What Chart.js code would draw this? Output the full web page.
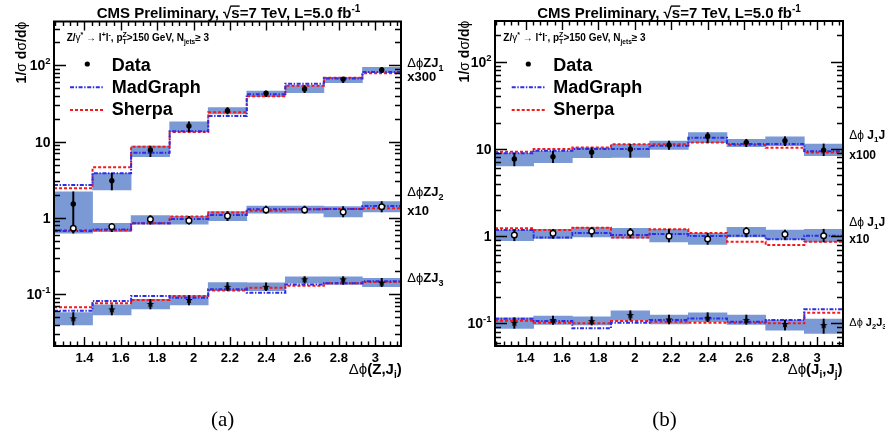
<!DOCTYPE html>
<html><head><meta charset="utf-8">
<script src="https://cdn.jsdelivr.net/npm/chart.js@4/dist/chart.umd.min.js"></script>
<style>
html,body{margin:0;padding:0;background:#fff;}
#wrap{position:relative;width:885px;height:435px;overflow:hidden;background:#fff;}
canvas{position:absolute;top:0;}
</style></head><body>
<div id="wrap">
<canvas id="ca" width="446" height="435" style="left:0"></canvas>
<canvas id="cb" width="445" height="435" style="left:440px"></canvas>
</div>
<script>
// ---- binning and ticks ----
const binEdges   = [1.2325, 1.4446, 1.6567, 1.8688, 2.0809, 2.2930, 2.5052, 2.7173, 2.9294, 3.1416];
const binCenters = [1.3386, 1.5507, 1.7628, 1.9749, 2.1870, 2.3991, 2.6112, 2.8233, 3.0355];
const xTickValues = [1.4, 1.6, 1.8, 2.0, 2.2, 2.4, 2.6, 2.8, 3.0];
const xTickLabels = ['1.4', '1.6', '1.8', '2', '2.2', '2.4', '2.6', '2.8', '3'];
const yTickValues = [0.1, 1, 10, 100];
const yTickLabels = ['10^{-1}', '1', '10', '10^{2}'];

// ---- panel (a): dphi(Z,J_i) ----
const a1Data = [1.52, 3.07, 7.76, 16.0, 25.4, 43.0, 48.9, 65.5, 86.7];
const a1Lo   = [0.63, 2.32, 6.34, 13.5, 23.0, 38.8, 43.8, 59.1, 80.0];
const a1Hi   = [2.2, 3.85, 8.75, 18.2, 27.8, 46.0, 54.0, 69.7, 94.0];
const a1MG   = [2.7, 3.85, 7.16, 13.7, 21.7, 41.7, 57.4, 67.0, 81.6];
const a1SH   = [2.45, 4.6, 8.57, 13.4, 24.2, 39.3, 54.0, 68.9, 78.6];

const a2Data = [0.731, 0.767, 0.96, 0.918, 1.06, 1.27, 1.27, 1.19, 1.40];
const a2Lo   = [0.65, 0.66, 0.83, 0.83, 0.92, 1.15, 1.15, 1.03, 1.20];
const a2Hi   = [0.80, 0.85, 1.07, 1.05, 1.21, 1.43, 1.43, 1.41, 1.63];
const a2MG   = [0.675, 0.705, 0.85, 0.97, 1.09, 1.30, 1.30, 1.31, 1.43];
const a2SH   = [0.69, 0.69, 0.85, 1.04, 1.18, 1.24, 1.30, 1.31, 1.34];

const a3Data = [0.0483, 0.0634, 0.0745, 0.084, 0.125, 0.125, 0.157, 0.157, 0.1415];
const a3Lo   = [0.0395, 0.0533, 0.064, 0.0723, 0.111, 0.111, 0.139, 0.134, 0.125];
const a3Hi   = [0.0573, 0.0723, 0.0857, 0.0956, 0.1415, 0.141, 0.169, 0.169, 0.161];
const a3MG   = [0.0608, 0.0815, 0.0947, 0.090, 0.116, 0.1047, 0.134, 0.139, 0.148];
const a3SH   = [0.0673, 0.076, 0.084, 0.0947, 0.112, 0.1216, 0.129, 0.139, 0.145];

// ---- panel (b): dphi(J_i,J_j) ----
const b1Data = [7.66, 8.15, 9.15, 9.9, 11.1, 14.0, 11.9, 12.4, 9.7];
const b1Lo   = [6.4, 6.95, 7.93, 8.0, 9.9, 11.8, 10.6, 10.9, 8.36];
const b1Hi   = [8.9, 9.46, 10.3, 11.3, 12.3, 15.4, 12.9, 13.8, 11.4];
const b1MG   = [8.9, 9.53, 9.97, 9.97, 10.9, 13.4, 11.4, 11.4, 9.4];
const b1SH   = [9.3, 9.97, 10.4, 11.3, 11.3, 11.85, 11.1, 10.3, 9.1];

const b2Data = [1.03, 1.077, 1.14, 1.10, 1.00, 0.927, 1.14, 1.05, 1.01];
const b2Lo   = [0.885, 0.944, 0.98, 0.95, 0.86, 0.805, 0.98, 0.92, 0.86];
const b2Hi   = [1.175, 1.20, 1.26, 1.23, 1.20, 1.08, 1.26, 1.175, 1.20];
const b2MG   = [1.175, 0.968, 1.09, 1.03, 1.06, 1.005, 1.01, 0.92, 1.01];
const b2SH   = [1.23, 1.175, 1.25, 0.968, 1.20, 1.09, 0.863, 0.79, 0.863];

const b3Data = [0.1016, 0.1091, 0.1062, 0.1245, 0.1111, 0.1159, 0.1091, 0.0982, 0.0957];
const b3Lo   = [0.0877, 0.0975, 0.0957, 0.1091, 0.0982, 0.1043, 0.0975, 0.0838, 0.0768];
const b3Hi   = [0.1159, 0.1213, 0.119, 0.1394, 0.1245, 0.1324, 0.1245, 0.1091, 0.112];
const b3MG   = [0.113, 0.1062, 0.0877, 0.1016, 0.1091, 0.114, 0.1043, 0.1091, 0.1449];
const b3SH   = [0.1071, 0.1016, 0.1, 0.1062, 0.1043, 0.1016, 0.1016, 0.1, 0.1324];

// ---- styles ----
const BAND = '#7b9ad5';
const MGC = 'rgb(45,45,230)';
const SHC = 'rgb(245,25,25)';
const MGDASH = [4, 1.6, 1.4, 1.6];
const SHDASH = [3, 2];
const FAM = '"Liberation Sans", Arial, "DejaVu Sans", sans-serif';
const B = s => `bold ${s}px ${FAM}`;
const N = s => `${s}px ${FAM}`;
const SER = s => `${s}px "Liberation Serif", "Times New Roman", serif`;

function makeStar(R) {
  const c = document.createElement('canvas');
  const s = Math.ceil(R * 2 + 2);
  c.width = s; c.height = s;
  const g = c.getContext('2d');
  g.translate(s / 2, s / 2 + 0.3);
  g.beginPath();
  for (let i = 0; i < 10; i++) {
    const r = i % 2 ? R * 0.45 : R;
    const a = -Math.PI / 2 + i * Math.PI / 5;
    g.lineTo(r * Math.cos(a), r * Math.sin(a));
  }
  g.closePath(); g.fillStyle = '#000'; g.fill();
  return c;
}
const STAR = makeStar(3.9);

function drawRich(ctx, parts, x, y, align) {
  let w = 0;
  for (const p of parts) { ctx.font = p.f; p._w = ctx.measureText(p.t).width; if (p.adv !== false) w += p._w; }
  let cx = align === 'right' ? x - w : align === 'center' ? x - w / 2 : x;
  for (const p of parts) {
    ctx.font = p.f;
    ctx.fillText(p.t, cx, y + (p.dy || 0));
    if (p.over) {
      ctx.save(); ctx.lineWidth = 1.4; ctx.beginPath();
      ctx.moveTo(cx - 1, y - 12.2); ctx.lineTo(cx + p._w, y - 12.2); ctx.stroke(); ctx.restore();
    }
    if (p.adv !== false) cx += p._w;
  }
}
function parseTick(lbl) {
  const m = lbl.match(/^(.*?)\^\{(.*)\}$/);
  if (!m) return [{ t: lbl, f: B(14) }];
  return [{ t: m[1], f: B(14) }, { t: m[2], f: B(9.5), dy: -6 }];
}

function makeDecor(P) {
  return {
    id: 'decor',
    afterDraw(chart) {
      const ctx = chart.ctx, a = chart.chartArea, xs = chart.scales.x, ys = chart.scales.y;
      ctx.save();
      ctx.fillStyle = '#000'; ctx.strokeStyle = '#000';
      ctx.textBaseline = 'alphabetic'; ctx.textAlign = 'left';
      // ticks
      ctx.lineWidth = 1.4;
      ctx.beginPath();
      for (let k = Math.ceil(xs.min / 0.04); k * 0.04 <= xs.max; k++) {
        const v = k * 0.04;
        const major = Math.abs(v / 0.2 - Math.round(v / 0.2)) < 1e-6;
        const L = major ? 9 : 4.5;
        const px = Math.round(xs.getPixelForValue(v)) + 0.5;
        ctx.moveTo(px, a.bottom); ctx.lineTo(px, a.bottom - L);
        ctx.moveTo(px, a.top); ctx.lineTo(px, a.top + L);
      }
      for (let d = Math.floor(Math.log10(ys.min)); d <= Math.ceil(Math.log10(ys.max)); d++) {
        for (let m = 1; m <= 9; m++) {
          const v = m * Math.pow(10, d);
          if (v < ys.min || v > ys.max) continue;
          const L = m === 1 ? 12 : 6;
          const py = Math.round(ys.getPixelForValue(v)) + 0.5;
          ctx.moveTo(a.left, py); ctx.lineTo(a.left + L, py);
          ctx.moveTo(a.right, py); ctx.lineTo(a.right - L, py);
        }
      }
      ctx.stroke();
      // frame
      ctx.lineWidth = 2;
      ctx.strokeRect(a.left, a.top, a.right - a.left, a.bottom - a.top);
      // tick labels
      xTickValues.forEach((v, i) => {
        drawRich(ctx, [{ t: xTickLabels[i], f: B(13) }], xs.getPixelForValue(v), P.xLabY, 'center');
      });
      yTickValues.forEach((v, i) => {
        drawRich(ctx, parseTick(yTickLabels[i]), P.yLabX, ys.getPixelForValue(v) + 5, 'right');
      });
      // title
      drawRich(ctx, [
        { t: 'CMS Preliminary, ', f: B(15) }, { t: '√', f: B(15) }, { t: 's', f: B(15), over: true },
        { t: '=7 TeV, L=5.0 fb', f: B(15) }, { t: '-1', f: B(10), dy: -6 }], P.titleX, 18.3, 'center');
      // y title
      ctx.save();
      ctx.translate(P.yTitleX, P.yTitleY); ctx.rotate(-Math.PI / 2);
      drawRich(ctx, [{ t: '1/', f: B(14) }, { t: 'σ', f: N(14) }, { t: ' d', f: B(14) }, { t: 'σ', f: N(14) },
        { t: '/d', f: B(14) }, { t: 'ϕ', f: N(14) }], 0, 0, 'right');
      ctx.restore();
      // selection text
      drawRich(ctx, [{ t: 'Z/', f: B(10) }, { t: 'γ', f: N(10) }, { t: '*', f: B(7), dy: -4 }, { t: ' → ', f: N(10) },
        { t: 'l', f: B(10) }, { t: '+', f: B(7), dy: -4 }, { t: 'l', f: B(10) }, { t: '-', f: B(7), dy: -4 },
        { t: ', p', f: B(10) }, { t: 'T', f: B(7), dy: 3, adv: false }, { t: 'Z', f: B(7), dy: -4 },
        { t: '>150 GeV, N', f: B(10) }, { t: 'jets', f: B(6.5), dy: 3 }, { t: '≥ 3', f: B(10) }], P.selX, 40.5, 'left');
      // legend
      ctx.beginPath(); ctx.arc(P.dotX, 64, 2.6, 0, Math.PI * 2); ctx.fill();
      drawRich(ctx, [{ t: 'Data', f: B(18) }], P.legTextX, 70.6, 'left');
      drawRich(ctx, [{ t: 'MadGraph', f: B(18) }], P.legTextX, 92.8, 'left');
      drawRich(ctx, [{ t: 'Sherpa', f: B(18) }], P.legTextX, 115, 'left');
      ctx.lineWidth = 2;
      ctx.setLineDash(MGDASH); ctx.strokeStyle = MGC;
      ctx.beginPath(); ctx.moveTo(P.legLineX0, 87.3); ctx.lineTo(P.legLineX1, 87.3); ctx.stroke();
      ctx.setLineDash(SHDASH); ctx.strokeStyle = SHC;
      ctx.beginPath(); ctx.moveTo(P.legLineX0, 110); ctx.lineTo(P.legLineX1, 110); ctx.stroke();
      ctx.setLineDash([]);
      // side labels
      P.side.forEach(s => drawRich(ctx, s.parts, P.sideX, s.y, 'left'));
      // x title
      drawRich(ctx, P.xTitle, P.xTitleX, 373.5, 'right');
      // caption
      drawRich(ctx, [{ t: P.caption, f: SER(21) }], P.capX, 426, 'center');
      ctx.restore();
    }
  };
}

function buildDatasets(series) {
  const ds = [];
  series.forEach(s => {
    ds.push({ type: 'bar', data: binCenters.map((x, i) => ({ x, y: [s.lo[i], s.hi[i]] })),
      backgroundColor: BAND, borderWidth: 0, barPercentage: 1, categoryPercentage: 1, grouped: false, order: 4 });
  });
  series.forEach(s => {
    ds.push({ type: 'line', data: binEdges.map((x, i) => ({ x, y: s.sh[Math.min(i, s.sh.length - 1)] })),
      stepped: true, borderColor: SHC, borderWidth: 2, borderDash: SHDASH, pointRadius: 0, fill: false, order: 3 });
    ds.push({ type: 'line', data: binEdges.map((x, i) => ({ x, y: s.mg[Math.min(i, s.mg.length - 1)] })),
      stepped: true, borderColor: MGC, borderWidth: 2, borderDash: MGDASH, pointRadius: 0, fill: false, order: 2 });
  });
  series.forEach(s => {
    ds.push({ type: 'bar', data: binCenters.map((x, i) => ({ x, y: [s.lo[i], s.hi[i]] })),
      backgroundColor: '#000', borderWidth: 0, barThickness: 1.3, grouped: false, order: 1 });
    const pt = s.marker === 'star' ? { pointStyle: STAR, pointRadius: 4 } :
      s.marker === 'open' ? { pointStyle: 'circle', pointRadius: 2.8, backgroundColor: '#fff', borderColor: '#000', borderWidth: 1.4 } :
      { pointStyle: 'circle', pointRadius: 2.7, backgroundColor: '#000', borderColor: '#000', borderWidth: 0 };
    ds.push(Object.assign({ type: 'scatter', data: binCenters.map((x, i) => ({ x, y: s.d[i] })), showLine: false, order: 0 }, pt));
  });
  return ds;
}

function makeChart(id, series, pad, ymin, ymax, P) {
  return new Chart(document.getElementById(id), {
    type: 'scatter',
    data: { datasets: buildDatasets(series) },
    options: {
      responsive: false, animation: false, devicePixelRatio: 1, events: [],
      layout: { padding: pad },
      plugins: { legend: { display: false }, tooltip: { enabled: false } },
      scales: {
        x: { type: 'linear', min: binEdges[0], max: binEdges[binEdges.length - 1], offset: false, display: false },
        y: { type: 'logarithmic', min: ymin, max: ymax, display: false }
      }
    },
    plugins: [makeDecor(P)]
  });
}

makeChart('ca', [
  { d: a1Data, lo: a1Lo, hi: a1Hi, mg: a1MG, sh: a1SH, marker: 'dot' },
  { d: a2Data, lo: a2Lo, hi: a2Hi, mg: a2MG, sh: a2SH, marker: 'open' },
  { d: a3Data, lo: a3Lo, hi: a3Hi, mg: a3MG, sh: a3SH, marker: 'star' }
], { left: 54, top: 21.5, right: 45, bottom: 89 }, 0.02094, 374.8, {
  xLabY: 362, yLabX: 50.5, titleX: 228.5, yTitleX: 25.5, yTitleY: 21.7, selX: 66.7,
  dotX: 87.3, legTextX: 111.7, legLineX0: 70, legLineX1: 103.3, sideX: 407.3,
  side: [
    { y: 66.5, parts: [{ t: 'Δϕ', f: N(13) }, { t: 'ZJ', f: B(13) }, { t: '1', f: B(9), dy: 4 }] },
    { y: 80.5, parts: [{ t: 'x300', f: B(13) }] },
    { y: 196, parts: [{ t: 'Δϕ', f: N(13) }, { t: 'ZJ', f: B(13) }, { t: '2', f: B(9), dy: 4 }] },
    { y: 215, parts: [{ t: 'x10', f: B(13) }] },
    { y: 281.5, parts: [{ t: 'Δϕ', f: N(13) }, { t: 'ZJ', f: B(13) }, { t: '3', f: B(9), dy: 4 }] }
  ],
  xTitle: [{ t: 'Δϕ', f: N(15) }, { t: '(Z,J', f: B(15) }, { t: 'i', f: B(10), dy: 4 }, { t: ')', f: B(15) }],
  xTitleX: 401.7, caption: '(a)', capX: 222.7
});

makeChart('cb', [
  { d: b1Data, lo: b1Lo, hi: b1Hi, mg: b1MG, sh: b1SH, marker: 'dot' },
  { d: b2Data, lo: b2Lo, hi: b2Hi, mg: b2MG, sh: b2SH, marker: 'open' },
  { d: b3Data, lo: b3Lo, hi: b3Hi, mg: b3MG, sh: b3SH, marker: 'star' }
], { left: 55, top: 21, right: 42, bottom: 89 }, 0.0550, 293, {
  xLabY: 362, yLabX: 51.5, titleX: 229, yTitleX: 29, yTitleY: 20.7, selX: 63.3,
  dotX: 88.3, legTextX: 113.3, legLineX0: 71.7, legLineX1: 105, sideX: 409.3,
  side: [
    { y: 139, parts: [{ t: 'Δϕ ', f: N(12) }, { t: 'J', f: B(12) }, { t: '1', f: B(8), dy: 3 }, { t: 'J', f: B(12) }, { t: '2', f: B(8), dy: 3 }] },
    { y: 158.5, parts: [{ t: 'x100', f: B(12) }] },
    { y: 226, parts: [{ t: 'Δϕ ', f: N(12) }, { t: 'J', f: B(12) }, { t: '1', f: B(8), dy: 3 }, { t: 'J', f: B(12) }, { t: '3', f: B(8), dy: 3 }] },
    { y: 243, parts: [{ t: 'x10', f: B(12) }] },
    { y: 326, parts: [{ t: 'Δϕ ', f: N(11) }, { t: 'J', f: B(11) }, { t: '2', f: B(7.5), dy: 3 }, { t: 'J', f: B(11) }, { t: '3', f: B(7.5), dy: 3 }] }
  ],
  xTitle: [{ t: 'Δϕ', f: N(15) }, { t: '(J', f: B(15) }, { t: 'i', f: B(10), dy: 4 }, { t: ',J', f: B(15) }, { t: 'j', f: B(10), dy: 4 }, { t: ')', f: B(15) }],
  xTitleX: 402.5, caption: '(b)', capX: 224.5
});
</script>
</body></html>
